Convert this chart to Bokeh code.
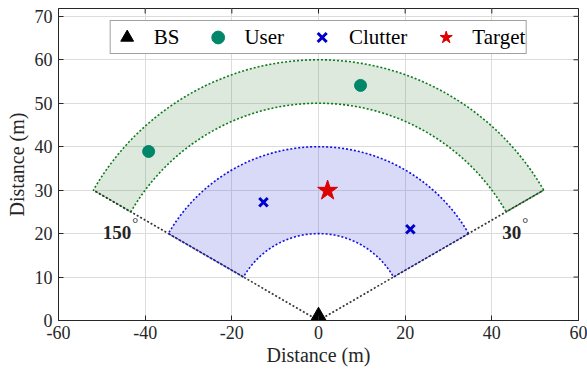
import numpy as np
from bokeh.plotting import figure
from bokeh.models import Range1d, FixedTicker, Legend, LegendItem
from bokeh.core.properties import value
from bokeh.embed import file_html
from bokeh.resources import INLINE

# Node positions (m)
bs_x = [0.0]
bs_y = [0.0]
user_x = [-39.2, 9.7]
user_y = [38.9, 54.1]
clutter_x = [-12.7, 21.2]
clutter_y = [27.2, 21.0]
target_x = [2.1]
target_y = [29.9]

# Sector geometry
sector_angles = [30, 150]      # degrees
coverage_radius = 60
user_ring = [50, 60]           # inner / outer radius of the user zone
sensing_ring = [20, 40]        # inner / outer radius of the sensing zone

x_ticks = [-60, -40, -20, 0, 20, 40, 60]
y_ticks = [0, 10, 20, 30, 40, 50, 60, 70]
x_max, y_max = 60, 71.8

SERIF = "Liberation Serif"
AX_COLOR = "#262626"

p = figure(width=587, height=375, output_backend="svg", toolbar_location=None,
           x_range=Range1d(-x_max, x_max), y_range=Range1d(0, y_max),
           min_border_left=58, min_border_right=9, min_border_top=8,
           min_border_bottom=55, background_fill_color="white",
           border_fill_color="white")
p.outline_line_color = AX_COLOR
p.outline_line_width = 1

for ax in (p.xaxis[0], p.yaxis[0]):
    ax.major_label_text_font = SERIF
    ax.major_label_text_font_size = "18px"
    ax.major_label_text_color = AX_COLOR
    ax.axis_label_text_font = SERIF
    ax.axis_label_text_font_size = "20px"
    ax.axis_label_text_font_style = "normal"
    ax.axis_label_text_color = AX_COLOR
    ax.axis_line_color = AX_COLOR
    ax.major_tick_line_color = AX_COLOR
    ax.major_tick_in = 5
    ax.major_tick_out = 0
    ax.minor_tick_line_color = None
p.xaxis[0].ticker = FixedTicker(ticks=x_ticks)
p.yaxis[0].ticker = FixedTicker(ticks=y_ticks)
p.xaxis[0].major_label_overrides = {t: str(t) for t in x_ticks}
p.yaxis[0].major_label_overrides = {t: str(t) for t in y_ticks}
p.xaxis[0].axis_label = "Distance (m)"
p.yaxis[0].axis_label = "Distance (m)"
p.xaxis[0].major_label_standoff = 5
p.yaxis[0].major_label_standoff = 6
p.xaxis[0].axis_label_standoff = 2
p.yaxis[0].axis_label_standoff = 4

p.xgrid.ticker = FixedTicker(ticks=x_ticks)
p.ygrid.ticker = FixedTicker(ticks=y_ticks)
p.grid.grid_line_color = "#dcdcdc"
p.grid.grid_line_width = 1

# Inward ticks on the top and right edges (the outer half is clipped by the frame)
p.scatter(x_ticks, [y_max] * len(x_ticks), marker="dash", size=10, angle=np.pi / 2,
          line_color=AX_COLOR, line_width=1)
p.scatter([x_max] * len(y_ticks), y_ticks, marker="dash", size=10,
          line_color=AX_COLOR, line_width=1)


def arc(radius, a0, a1, n=120):
    t = np.radians(np.linspace(a0, a1, n))
    return radius * np.cos(t), radius * np.sin(t)


def ring(r_in, r_out, a0, a1):
    xo, yo = arc(r_out, a0, a1)
    xi, yi = arc(r_in, a1, a0)
    xs = np.concatenate([xo, xi, xo[:1]])
    ys = np.concatenate([yo, yi, yo[:1]])
    return xs, ys


a0, a1 = sector_angles
DOT = "2 2"

# User zone
ux, uy = ring(user_ring[0], user_ring[1], a0, a1)
p.patch(ux, uy, fill_color="#2e7d32", fill_alpha=0.17, line_color=None)
p.line(ux, uy, line_color="#0b7a1a", line_width=1.6, line_dash=DOT)

# Sensing zone
sx, sy = ring(sensing_ring[0], sensing_ring[1], a0, a1)
p.patch(sx, sy, fill_color="#5050e0", fill_alpha=0.22, line_color=None)
p.line(sx, sy, line_color="#1010e0", line_width=1.6, line_dash=DOT)

# Sector boundaries from the base station
for ang in sector_angles:
    ex, ey = arc(coverage_radius, ang, ang, 2)
    p.line([0, ex[0]], [0, ey[0]], line_color="#333333", line_width=1.6, line_dash=DOT)

# Angle annotations, set just outside each sector edge
label_x = {30: 46.8, 150: -43.2}
for ang in sector_angles:
    tx, ty = label_x[ang], 20.3
    p.text(x=[tx], y=[ty], text=[f"{ang}"], text_font=value(SERIF),
           text_font_size="19px", text_font_style="bold", text_color=AX_COLOR,
           text_align="right", text_baseline="middle")
    p.text(x=[tx], y=[ty], text=["°"], text_font=value(SERIF),
           text_font_size="15px", text_color=AX_COLOR,
           text_align="left", text_baseline="middle", x_offset=1, y_offset=-9)

r_bs = p.scatter(bs_x, bs_y, marker="triangle", size=23, fill_color="black",
                 line_color="black")
r_user = p.scatter(user_x, user_y, marker="circle", size=12, fill_color="#00876a",
                   line_color="#00876a")
r_clutter = p.scatter(clutter_x, clutter_y, marker="x", size=12, line_color="#0000cc",
                      line_width=3)
r_target = p.scatter(target_x, target_y, marker="star", size=21, fill_color="#dd0000",
                     line_color="#dd0000")

legend = Legend(items=[LegendItem(label="BS", renderers=[r_bs]),
                       LegendItem(label="User", renderers=[r_user]),
                       LegendItem(label="Clutter", renderers=[r_clutter]),
                       LegendItem(label="Target", renderers=[r_target])],
                orientation="horizontal", location="top_center",
                label_text_font=SERIF, label_text_font_size="21px",
                label_text_color="black", glyph_width=32, glyph_height=32,
                label_height=28, label_standoff=11, spacing=22, padding=0,
                margin=12, border_line_color="#444444", border_line_width=1,
                background_fill_color="white", background_fill_alpha=1)
p.add_layout(legend, "center")

open("out.html", "w").write(file_html(p, INLINE))
